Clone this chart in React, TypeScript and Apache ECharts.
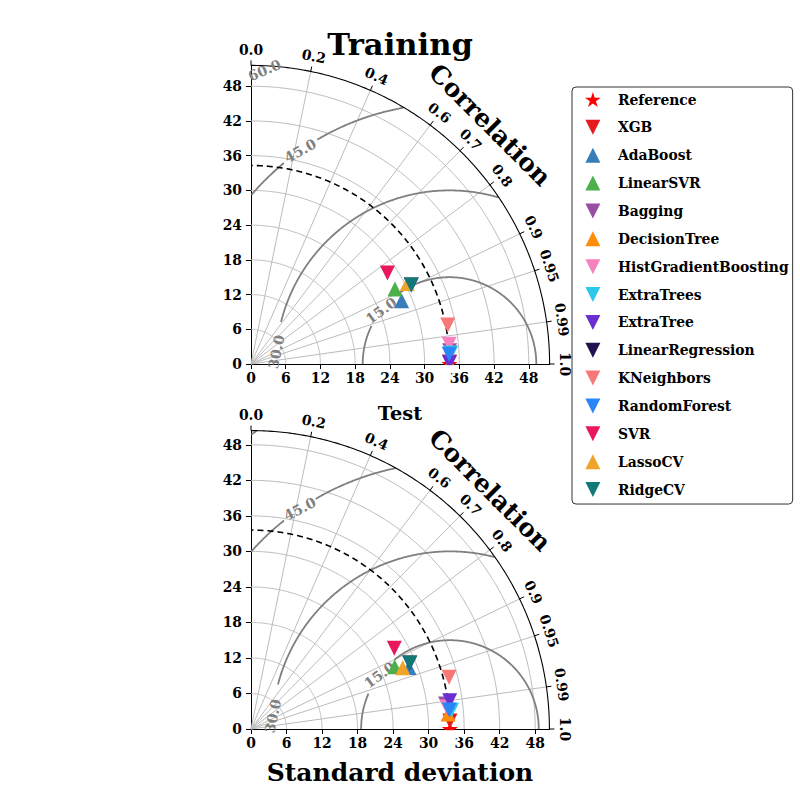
import React, { useEffect, useRef } from 'react';
import * as echarts from 'echarts';

// ---------------- data ----------------
const models = ['Reference', 'XGB', 'AdaBoost', 'LinearSVR', 'Bagging', 'DecisionTree', 'HistGradientBoosting', 'ExtraTrees', 'ExtraTree', 'LinearRegression', 'KNeighbors', 'RandomForest', 'SVR', 'LassoCV', 'RidgeCV'];
const markerShape = ['star', 'down', 'up', 'up', 'down', 'up', 'down', 'down', 'down', 'down', 'down', 'down', 'down', 'up', 'down'];
const markerColor = ['#ff0000', '#e41a1c', '#377eb8', '#4daf4a', '#984ea3', '#ff8c0a', '#f781bf', '#2ec8ea', '#6a2fd0', '#22124f', '#f87878', '#2b86f5', '#e8185a', '#f0a52a', '#127878'];

const trainStd = [34.3, 34.3, 28.23, 28.04, 34.4, 34.3, 34.42, 34.59, 34.3, 30.87, 34.66, 34.29, 28.34, 30.37, 30.87];
const trainCorr = [1.0, 0.99995, 0.922, 0.887, 0.9978, 1.0, 0.9951, 0.9985, 0.99998, 0.897, 0.9809, 0.9988, 0.832, 0.889, 0.897];
const testStd = [33.6, 33.63, 28.64, 26.45, 33.13, 33.38, 33.3, 34.01, 33.9, 29.04, 34.57, 33.65, 27.78, 27.64, 29.04];
const testCorr = [1.0, 0.9992, 0.9319, 0.9176, 0.9918, 0.9971, 0.9938, 0.9957, 0.99, 0.9233, 0.9676, 0.9954, 0.8713, 0.9272, 0.9233];

const trainMax = 51.6;
const testMax = 50.4;
const stdTicks = [0, 6, 12, 18, 24, 30, 36, 42, 48];
const corrTicks = [0.0, 0.2, 0.4, 0.6, 0.7, 0.8, 0.9, 0.95, 0.99, 1.0];
const corrTickLabels = ['0.0', '0.2', '0.4', '0.6', '0.7', '0.8', '0.9', '0.95', '0.99', '1.0'];
const corrGrid = [0.2, 0.4, 0.6, 0.7, 0.8, 0.9, 0.95, 0.99];
const rmsLevels = [15, 30, 45, 60];

// ---------------- layout ----------------
const D = Math.PI / 180;
const FONT = 'DejaVu Serif';

const rmsLayout = [
  [
    { phi: 142, rot: 36, gap: [128, 154], show: true },
    { phi: 176, rot: 78, gap: [166, 181], show: true },
    { phi: 125, rot: 29, gap: [120.5, 129.5], show: true },
    { phi: 122.2, rot: 23, gap: [118, 130], show: true },
  ],
  [
    { phi: 142.5, rot: 36, gap: [128.5, 156.5], show: true },
    { phi: 175.8, rot: 78, gap: [165.5, 181], show: true },
    { phi: 124.3, rot: 27, gap: [120.3, 128.3], show: true },
    { phi: 0, rot: 0, gap: null as any, show: false },
  ],
];

const panels = [
  { rmax: trainMax, ref: trainStd[0], std: trainStd, corr: trainCorr, grid: { left: 251, top: 65.4, width: 298.6, height: 298.6 } },
  { rmax: testMax, ref: testStd[0], std: testStd, corr: testCorr, grid: { left: 251, top: 430.6, width: 298.4, height: 298.4 } },
];

const DOWN = 'path://M0,0L2,0L1,2Z';
const UP = 'path://M1,0L2,2L0,2Z';
const STAR = (() => {
  const pts: string[] = [];
  for (let k = 0; k < 10; k++) {
    const r = k % 2 === 0 ? 1 : 0.381966;
    const a = (90 + 36 * k) * D;
    pts.push((r * Math.cos(a)).toFixed(4) + ',' + (-r * Math.sin(a)).toFixed(4));
  }
  return 'path://M' + pts.join('L') + 'Z';
})();
const sym = (i: number) => (markerShape[i] === 'star' ? STAR : markerShape[i] === 'up' ? UP : DOWN);

function geometry(pi: number) {
  const p = panels[pi];
  const lay = rmsLayout[pi];
  return function (_params: any, api: any) {
    const c = (x: number, y: number) => api.coord([x, y]);
    const o = c(0, 0);
    const ppu = c(1, 0)[0] - o[0];
    const R = p.rmax;
    const pol = (r: number, th: number) => c(r * Math.cos(th * D), r * Math.sin(th * D));
    const kids: any[] = [];
    const poly = (pts: number[][], stroke: string, lw: number, dash?: number[]) =>
      kids.push({ type: 'polyline', silent: true, shape: { points: pts }, style: { stroke, lineWidth: lw, fill: 'none', lineDash: dash || null } });
    const text = (x: number, y: number, rotDeg: number, t: string, size: number, color: string) =>
      kids.push({
        type: 'text', silent: true, x, y, rotation: rotDeg * D,
        style: { text: t, fill: color, fontSize: size, fontFamily: FONT, fontWeight: 'bold', align: 'center', verticalAlign: 'middle' },
      });

    for (const s of stdTicks) {
      if (s <= 0) continue;
      const pts: number[][] = [];
      for (let a = 0; a <= 90.001; a += 0.5) pts.push(pol(s, a));
      poly(pts, '#bcbcbc', 1);
    }
    for (const cr of corrGrid) {
      const th = Math.acos(cr) / D;
      poly([o, pol(R, th)], '#bcbcbc', 1);
    }
    rmsLevels.forEach((L, li) => {
      const lab = lay[li];
      let seg: number[][] = [];
      for (let f = 0; f <= 180.001; f += 0.25) {
        const x = p.ref + L * Math.cos(f * D);
        const y = L * Math.sin(f * D);
        const inGap = lab.gap && f > lab.gap[0] && f < lab.gap[1];
        const ok = x >= 0 && Math.hypot(x, y) <= R && !inGap;
        if (ok) seg.push(c(x, y));
        else {
          if (seg.length > 1) poly(seg, '#808080', 1.8);
          seg = [];
        }
      }
      if (seg.length > 1) poly(seg, '#808080', 1.8);
    });
    {
      const pts: number[][] = [];
      for (let a = 0; a <= 90.001; a += 0.5) pts.push(pol(p.ref, a));
      poly(pts, '#000', 1.6, [6, 4]);
    }
    {
      const pts: number[][] = [];
      for (let a = 0; a <= 90.001; a += 0.5) pts.push(pol(R, a));
      poly(pts, '#000', 1.1);
    }
    corrTicks.forEach((cr, k) => {
      const th = Math.acos(cr) / D;
      poly([pol(R, th), pol(R + 5 / ppu, th)], '#000', 1);
      const q = pol(R * 1.052, th);
      text(q[0], q[1], th - 90, corrTickLabels[k], 13.9, '#000');
    });
    {
      const q = pol(R * 1.132, 45);
      text(q[0], q[1], -45, 'Correlation', 25, '#000');
    }
    rmsLevels.forEach((L, li) => {
      const lab = lay[li];
      if (!lab.show) return;
      const q = c(p.ref + L * Math.cos(lab.phi * D), L * Math.sin(lab.phi * D));
      text(q[0], q[1], lab.rot, L.toFixed(1), 14, '#808080');
    });
    return { type: 'group', children: kids };
  };
}

// white mask under the x axis so markers sitting on the axis look clipped (as in the axes clip)
function axisMask(pi: number) {
  const p = panels[pi];
  return function (_params: any, api: any) {
    const a = api.coord([p.ref - 2, 0]);
    const b = api.coord([p.ref + 1.5, 0]);
    return {
      type: 'rect', silent: true,
      shape: { x: a[0], y: a[1] + 1.2, width: b[0] - a[0], height: 8 },
      style: { fill: '#fff' },
    };
  };
}

export default function App() {
  const ref = useRef<HTMLDivElement>(null);
  useEffect(() => {
    document.body.style.margin = '0';
    const chart = echarts.init(ref.current!, null, { renderer: 'svg' });
    const labelStyle = { color: '#000', fontFamily: FONT, fontWeight: 'bold', fontSize: 13.9 };
    const series: any[] = [];
    panels.forEach((_p, pi) => {
      series.push({
        type: 'custom', xAxisIndex: pi, yAxisIndex: pi, z: 1, silent: true, clip: false,
        data: [[0, 0]], renderItem: geometry(pi),
      });
    });
    panels.forEach((p, pi) => {
      models.forEach((m, i) => {
        const s = p.std[i];
        const cr = p.corr[i];
        series.push({
          type: 'scatter', name: m, xAxisIndex: pi, yAxisIndex: pi, z: 3, silent: true,
          symbol: sym(i), symbolSize: markerShape[i] === 'star' ? 16 : 15,
          itemStyle: { color: markerColor[i], opacity: 1 },
          emphasis: { disabled: true },
          data: [[s * cr, s * Math.sqrt(Math.max(0, 1 - cr * cr))]],
        });
      });
    });
    panels.forEach((_p, pi) => {
      series.push({
        type: 'custom', xAxisIndex: pi, yAxisIndex: pi, z: 4, silent: true, clip: false,
        data: [[0, 0]], renderItem: axisMask(pi),
      });
    });
    const option: any = {
      animation: false,
      backgroundColor: '#fff',
      title: [
        { text: 'Training', left: 400, top: 44, textAlign: 'center', textVerticalAlign: 'middle', padding: 0, textStyle: { fontFamily: FONT, fontWeight: 'bold', fontSize: 30.6, color: '#000' } },
        { text: 'Test', left: 400, top: 413, textAlign: 'center', textVerticalAlign: 'middle', padding: 0, textStyle: { fontFamily: FONT, fontWeight: 'bold', fontSize: 19.4, color: '#000' } },
        { text: 'Standard deviation', left: 400, top: 772, textAlign: 'center', textVerticalAlign: 'middle', padding: 0, textStyle: { fontFamily: FONT, fontWeight: 'bold', fontSize: 25, color: '#000' } },
      ],
      grid: panels.map((p) => ({ ...p.grid, containLabel: false, outerBoundsMode: 'none' })),
      xAxis: panels.map((p, pi) => ({
        gridIndex: pi, type: 'value', min: 0, max: p.rmax,
        axisLine: { show: true, onZero: false, lineStyle: { color: '#000', width: 1 } },
        axisTick: { show: true, length: 5, lineStyle: { color: '#000' }, customValues: stdTicks },
        axisLabel: { ...labelStyle, margin: 7, customValues: stdTicks },
        splitLine: { show: false },
      })),
      yAxis: panels.map((p, pi) => ({
        gridIndex: pi, type: 'value', min: 0, max: p.rmax, position: 'left',
        axisLine: { show: true, onZero: false, lineStyle: { color: '#000', width: 1 } },
        axisTick: { show: true, length: 5, lineStyle: { color: '#000' }, customValues: stdTicks },
        axisLabel: { ...labelStyle, margin: 9, customValues: stdTicks },
        splitLine: { show: false },
      })),
      legend: {
        orient: 'vertical', left: 572, top: 87, padding: [5, 4, 7, 13],
        itemWidth: 40, itemHeight: 15, itemGap: 12.86, selectedMode: false,
        backgroundColor: '#fff', borderColor: '#333', borderWidth: 1, borderRadius: 4,
        textStyle: { fontFamily: FONT, fontWeight: 'bold', fontSize: 13.9, color: '#000' },
        data: models.map((m, i) => ({ name: m, icon: sym(i) })),
      },
      series,
    };
    chart.setOption(option);
    return () => chart.dispose();
  }, []);
  return <div ref={ref} style={{ width: 800, height: 800 }} />;
}
